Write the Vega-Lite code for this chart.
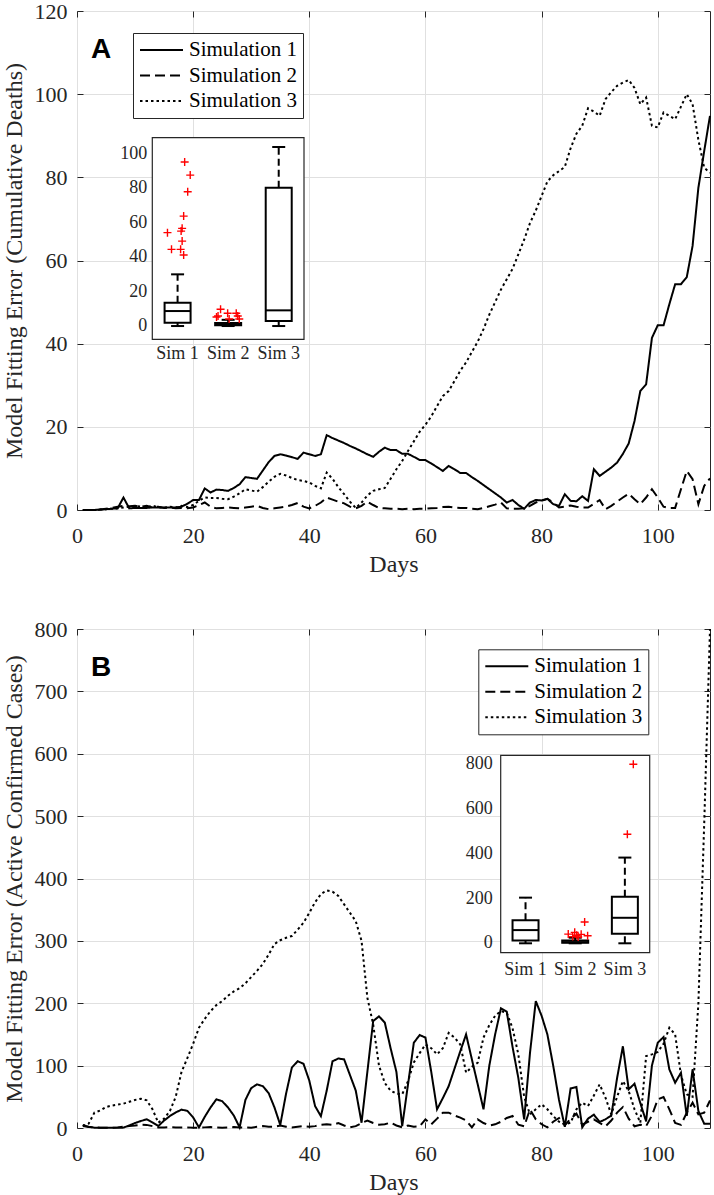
{
"$schema": "https://vega.github.io/schema/vega-lite/v6.json",
"padding": {"left": 1, "top": -1, "right": 3, "bottom": 5},
"background": "white",
"config": {
  "view": {"stroke": "#262626", "strokeWidth": 1},
  "font": "Liberation Serif",
  "axis": {"labelFont": "Liberation Serif", "titleFont": "Liberation Serif", "labelColor": "#262626", "titleColor": "#262626", "titleFontWeight": "normal", "labelFlush": false, "domain": false, "tickColor": "#262626", "gridColor": "#e0e0e0", "labelOverlap": false}
},
"datasets": {
  "deaths": [
{"s":1,"d":1,"v":0},{"s":1,"d":2,"v":0},{"s":1,"d":3,"v":0},{"s":1,"d":4,"v":0.1},{"s":1,"d":5,"v":0.2},{"s":1,"d":6,"v":0.3},{"s":1,"d":7,"v":0.4},{"s":1,"d":8,"v":3},{"s":1,"d":9,"v":0.4},{"s":1,"d":10,"v":0.5},
{"s":1,"d":11,"v":0.5},{"s":1,"d":12,"v":0.5},{"s":1,"d":13,"v":0.6},{"s":1,"d":14,"v":0.6},{"s":1,"d":15,"v":0.6},{"s":1,"d":16,"v":0.6},{"s":1,"d":17,"v":0.6},{"s":1,"d":18,"v":0.8},{"s":1,"d":19,"v":1.5},{"s":1,"d":20,"v":2.4},
{"s":1,"d":21,"v":2.4},{"s":1,"d":22,"v":5.2},{"s":1,"d":23,"v":4.2},{"s":1,"d":24,"v":4.9},{"s":1,"d":25,"v":4.8},{"s":1,"d":26,"v":4.6},{"s":1,"d":27,"v":5.3},{"s":1,"d":28,"v":6.2},{"s":1,"d":29,"v":7.9},{"s":1,"d":30,"v":7.7},
{"s":1,"d":31,"v":7.5},{"s":1,"d":32,"v":9.5},{"s":1,"d":33,"v":11.5},{"s":1,"d":34,"v":13},{"s":1,"d":35,"v":13.4},{"s":1,"d":36,"v":13.1},{"s":1,"d":37,"v":12.7},{"s":1,"d":38,"v":12.3},{"s":1,"d":39,"v":13.8},{"s":1,"d":40,"v":13.4},
{"s":1,"d":41,"v":13},{"s":1,"d":42,"v":13.4},{"s":1,"d":43,"v":18},{"s":1,"d":44,"v":17.3},{"s":1,"d":45,"v":16.7},{"s":1,"d":46,"v":16.1},{"s":1,"d":47,"v":15.4},{"s":1,"d":48,"v":14.8},{"s":1,"d":49,"v":14.1},{"s":1,"d":50,"v":13.4},
{"s":1,"d":51,"v":12.8},{"s":1,"d":52,"v":14},{"s":1,"d":53,"v":15},{"s":1,"d":54,"v":14.4},{"s":1,"d":55,"v":14.4},{"s":1,"d":56,"v":13.5},{"s":1,"d":57,"v":13.5},{"s":1,"d":58,"v":12.8},{"s":1,"d":59,"v":12},{"s":1,"d":60,"v":12},
{"s":1,"d":61,"v":11.2},{"s":1,"d":62,"v":10.3},{"s":1,"d":63,"v":9.4},{"s":1,"d":64,"v":10.6},{"s":1,"d":65,"v":9.8},{"s":1,"d":66,"v":8.9},{"s":1,"d":67,"v":8.9},{"s":1,"d":68,"v":7.9},{"s":1,"d":69,"v":7},{"s":1,"d":70,"v":6},
{"s":1,"d":71,"v":5},{"s":1,"d":72,"v":4},{"s":1,"d":73,"v":3},{"s":1,"d":74,"v":1.8},{"s":1,"d":75,"v":2.4},{"s":1,"d":76,"v":1.2},{"s":1,"d":77,"v":0.3},{"s":1,"d":78,"v":1.8},{"s":1,"d":79,"v":2.4},{"s":1,"d":80,"v":2.3},
{"s":1,"d":81,"v":2.7},{"s":1,"d":82,"v":1.4},{"s":1,"d":83,"v":1},{"s":1,"d":84,"v":3.8},{"s":1,"d":85,"v":2.2},{"s":1,"d":86,"v":2.1},{"s":1,"d":87,"v":3.3},{"s":1,"d":88,"v":2.2},{"s":1,"d":89,"v":9.8},{"s":1,"d":90,"v":8.2},
{"s":1,"d":91,"v":9.2},{"s":1,"d":92,"v":10.2},{"s":1,"d":93,"v":11.4},{"s":1,"d":94,"v":13.5},{"s":1,"d":95,"v":16},{"s":1,"d":96,"v":21.4},{"s":1,"d":97,"v":28.6},{"s":1,"d":98,"v":30.2},{"s":1,"d":99,"v":41.4},{"s":1,"d":100,"v":44.4},
{"s":1,"d":101,"v":44.4},{"s":1,"d":102,"v":49.5},{"s":1,"d":103,"v":54.3},{"s":1,"d":104,"v":54.3},{"s":1,"d":105,"v":56},{"s":1,"d":106,"v":63.5},{"s":1,"d":107,"v":77.5},{"s":1,"d":108,"v":86.3},{"s":1,"d":109,"v":94.8},
{"s":2,"d":1,"v":0},{"s":2,"d":2,"v":0},{"s":2,"d":3,"v":0},{"s":2,"d":4,"v":0.1},{"s":2,"d":5,"v":0.3},{"s":2,"d":6,"v":0.5},{"s":2,"d":7,"v":0.8},{"s":2,"d":8,"v":1},{"s":2,"d":9,"v":0.9},{"s":2,"d":10,"v":1},
{"s":2,"d":11,"v":0.8},{"s":2,"d":12,"v":1},{"s":2,"d":13,"v":0.6},{"s":2,"d":14,"v":0.8},{"s":2,"d":15,"v":0.5},{"s":2,"d":16,"v":0.6},{"s":2,"d":17,"v":0.4},{"s":2,"d":18,"v":0.5},{"s":2,"d":19,"v":0.4},{"s":2,"d":20,"v":0.6},
{"s":2,"d":21,"v":1.2},{"s":2,"d":22,"v":1.8},{"s":2,"d":23,"v":0.8},{"s":2,"d":24,"v":0.4},{"s":2,"d":25,"v":0.5},{"s":2,"d":26,"v":0.6},{"s":2,"d":27,"v":0.5},{"s":2,"d":28,"v":0.4},{"s":2,"d":29,"v":0.6},{"s":2,"d":30,"v":0.8},
{"s":2,"d":31,"v":1},{"s":2,"d":32,"v":0.5},{"s":2,"d":33,"v":0.2},{"s":2,"d":34,"v":0.4},{"s":2,"d":35,"v":0.6},{"s":2,"d":36,"v":0.8},{"s":2,"d":37,"v":1.2},{"s":2,"d":38,"v":1.7},{"s":2,"d":39,"v":0.8},{"s":2,"d":40,"v":0.4},
{"s":2,"d":41,"v":1},{"s":2,"d":42,"v":1.8},{"s":2,"d":43,"v":3},{"s":2,"d":44,"v":2.5},{"s":2,"d":45,"v":2},{"s":2,"d":46,"v":1.6},{"s":2,"d":47,"v":0.8},{"s":2,"d":48,"v":0.4},{"s":2,"d":49,"v":1},{"s":2,"d":50,"v":2},
{"s":2,"d":51,"v":1.2},{"s":2,"d":52,"v":0.5},{"s":2,"d":53,"v":0.4},{"s":2,"d":54,"v":0.3},{"s":2,"d":55,"v":0.3},{"s":2,"d":56,"v":0.2},{"s":2,"d":57,"v":0.3},{"s":2,"d":58,"v":0.2},{"s":2,"d":59,"v":0.3},{"s":2,"d":60,"v":0.3},
{"s":2,"d":61,"v":0.4},{"s":2,"d":62,"v":0.5},{"s":2,"d":63,"v":0.7},{"s":2,"d":64,"v":0.8},{"s":2,"d":65,"v":0.6},{"s":2,"d":66,"v":0.5},{"s":2,"d":67,"v":0.5},{"s":2,"d":68,"v":0.3},{"s":2,"d":69,"v":0.2},{"s":2,"d":70,"v":0.5},
{"s":2,"d":71,"v":0.9},{"s":2,"d":72,"v":1.3},{"s":2,"d":73,"v":1.8},{"s":2,"d":74,"v":0.4},{"s":2,"d":75,"v":0.3},{"s":2,"d":76,"v":0.3},{"s":2,"d":77,"v":0.4},{"s":2,"d":78,"v":1},{"s":2,"d":79,"v":1.8},{"s":2,"d":80,"v":2.2},
{"s":2,"d":81,"v":2.7},{"s":2,"d":82,"v":1.8},{"s":2,"d":83,"v":0.6},{"s":2,"d":84,"v":0.8},{"s":2,"d":85,"v":1.1},{"s":2,"d":86,"v":0.8},{"s":2,"d":87,"v":0.6},{"s":2,"d":88,"v":0.6},{"s":2,"d":89,"v":1.5},{"s":2,"d":90,"v":2.4},
{"s":2,"d":91,"v":0.2},{"s":2,"d":92,"v":1},{"s":2,"d":93,"v":2},{"s":2,"d":94,"v":3},{"s":2,"d":95,"v":3.9},{"s":2,"d":96,"v":2.6},{"s":2,"d":97,"v":1.4},{"s":2,"d":98,"v":3},{"s":2,"d":99,"v":5},{"s":2,"d":100,"v":3},
{"s":2,"d":101,"v":0.8},{"s":2,"d":102,"v":0.5},{"s":2,"d":103,"v":0.5},{"s":2,"d":104,"v":5},{"s":2,"d":105,"v":9.4},{"s":2,"d":106,"v":7.4},{"s":2,"d":107,"v":1.4},{"s":2,"d":108,"v":5.8},{"s":2,"d":109,"v":7.6},
{"s":3,"d":1,"v":0},{"s":3,"d":2,"v":0},{"s":3,"d":3,"v":0},{"s":3,"d":4,"v":0.1},{"s":3,"d":5,"v":0.2},{"s":3,"d":6,"v":0.3},{"s":3,"d":7,"v":0.4},{"s":3,"d":8,"v":0.6},{"s":3,"d":9,"v":0.8},{"s":3,"d":10,"v":1},
{"s":3,"d":11,"v":0.8},{"s":3,"d":12,"v":0.6},{"s":3,"d":13,"v":1},{"s":3,"d":14,"v":0.7},{"s":3,"d":15,"v":0.5},{"s":3,"d":16,"v":0.8},{"s":3,"d":17,"v":0.6},{"s":3,"d":18,"v":1},{"s":3,"d":19,"v":0.7},{"s":3,"d":20,"v":1.2},
{"s":3,"d":21,"v":2.2},{"s":3,"d":22,"v":3},{"s":3,"d":23,"v":2.9},{"s":3,"d":24,"v":2.9},{"s":3,"d":25,"v":2.7},{"s":3,"d":26,"v":2.6},{"s":3,"d":27,"v":3.2},{"s":3,"d":28,"v":4},{"s":3,"d":29,"v":5},{"s":3,"d":30,"v":4.7},
{"s":3,"d":31,"v":4.4},{"s":3,"d":32,"v":5.5},{"s":3,"d":33,"v":6.8},{"s":3,"d":34,"v":8},{"s":3,"d":35,"v":8.7},{"s":3,"d":36,"v":8.3},{"s":3,"d":37,"v":7.7},{"s":3,"d":38,"v":7.2},{"s":3,"d":39,"v":7},{"s":3,"d":40,"v":6.6},
{"s":3,"d":41,"v":5.8},{"s":3,"d":42,"v":5.2},{"s":3,"d":43,"v":9},{"s":3,"d":44,"v":7.5},{"s":3,"d":45,"v":5.5},{"s":3,"d":46,"v":3.8},{"s":3,"d":47,"v":2},{"s":3,"d":48,"v":0.5},{"s":3,"d":49,"v":1.8},{"s":3,"d":50,"v":3.5},
{"s":3,"d":51,"v":4.6},{"s":3,"d":52,"v":5},{"s":3,"d":53,"v":5.3},{"s":3,"d":54,"v":7.5},{"s":3,"d":55,"v":9.8},{"s":3,"d":56,"v":11.8},{"s":3,"d":57,"v":14.2},{"s":3,"d":58,"v":16.5},{"s":3,"d":59,"v":18.8},{"s":3,"d":60,"v":20.5},
{"s":3,"d":61,"v":22.5},{"s":3,"d":62,"v":25},{"s":3,"d":63,"v":27.4},{"s":3,"d":64,"v":28.6},{"s":3,"d":65,"v":31},{"s":3,"d":66,"v":33.5},{"s":3,"d":67,"v":35.5},{"s":3,"d":68,"v":38},{"s":3,"d":69,"v":40.5},{"s":3,"d":70,"v":43.5},
{"s":3,"d":71,"v":47},{"s":3,"d":72,"v":50},{"s":3,"d":73,"v":53},{"s":3,"d":74,"v":55.5},{"s":3,"d":75,"v":58},{"s":3,"d":76,"v":61.5},{"s":3,"d":77,"v":65},{"s":3,"d":78,"v":69},{"s":3,"d":79,"v":72},{"s":3,"d":80,"v":75.5},
{"s":3,"d":81,"v":79},{"s":3,"d":82,"v":80.5},{"s":3,"d":83,"v":81.5},{"s":3,"d":84,"v":82.5},{"s":3,"d":85,"v":87},{"s":3,"d":86,"v":90.5},{"s":3,"d":87,"v":92.4},{"s":3,"d":88,"v":96.6},{"s":3,"d":89,"v":95.8},{"s":3,"d":90,"v":94.8},
{"s":3,"d":91,"v":98.8},{"s":3,"d":92,"v":100.5},{"s":3,"d":93,"v":102},{"s":3,"d":94,"v":102.8},{"s":3,"d":95,"v":103.4},{"s":3,"d":96,"v":101.5},{"s":3,"d":97,"v":97.6},{"s":3,"d":98,"v":99.2},{"s":3,"d":99,"v":92.4},{"s":3,"d":100,"v":92},
{"s":3,"d":101,"v":95.6},{"s":3,"d":102,"v":94.8},{"s":3,"d":103,"v":94},{"s":3,"d":104,"v":97},{"s":3,"d":105,"v":100},{"s":3,"d":106,"v":97.6},{"s":3,"d":107,"v":89},{"s":3,"d":108,"v":82.3},{"s":3,"d":109,"v":81.1}
  ],
  "active": [
{"s":1,"d":1,"v":4.8},{"s":1,"d":2,"v":2},{"s":1,"d":3,"v":0.5},{"s":1,"d":4,"v":0.3},{"s":1,"d":5,"v":0.3},{"s":1,"d":6,"v":0.3},{"s":1,"d":7,"v":0.4},{"s":1,"d":8,"v":0.6},{"s":1,"d":9,"v":4},{"s":1,"d":10,"v":8},
{"s":1,"d":11,"v":11.2},{"s":1,"d":12,"v":13.9},{"s":1,"d":13,"v":9},{"s":1,"d":14,"v":3.2},{"s":1,"d":15,"v":12},{"s":1,"d":16,"v":19.2},{"s":1,"d":17,"v":25},{"s":1,"d":18,"v":29.4},{"s":1,"d":19,"v":27.5},{"s":1,"d":20,"v":17},
{"s":1,"d":21,"v":1},{"s":1,"d":22,"v":18},{"s":1,"d":23,"v":33},{"s":1,"d":24,"v":46},{"s":1,"d":25,"v":43},{"s":1,"d":26,"v":33},{"s":1,"d":27,"v":20},{"s":1,"d":28,"v":1},{"s":1,"d":29,"v":45},{"s":1,"d":30,"v":64},
{"s":1,"d":31,"v":70},{"s":1,"d":32,"v":67},{"s":1,"d":33,"v":56},{"s":1,"d":34,"v":33},{"s":1,"d":35,"v":5},{"s":1,"d":36,"v":55},{"s":1,"d":37,"v":97},{"s":1,"d":38,"v":107},{"s":1,"d":39,"v":103},{"s":1,"d":40,"v":76},
{"s":1,"d":41,"v":35},{"s":1,"d":42,"v":19},{"s":1,"d":43,"v":60},{"s":1,"d":44,"v":107},{"s":1,"d":45,"v":111.4},{"s":1,"d":46,"v":110},{"s":1,"d":47,"v":85},{"s":1,"d":48,"v":60},{"s":1,"d":49,"v":8.5},{"s":1,"d":50,"v":90},
{"s":1,"d":51,"v":171.5},{"s":1,"d":52,"v":179},{"s":1,"d":53,"v":169},{"s":1,"d":54,"v":128},{"s":1,"d":55,"v":90},{"s":1,"d":56,"v":3},{"s":1,"d":57,"v":70},{"s":1,"d":58,"v":136.7},{"s":1,"d":59,"v":149},{"s":1,"d":60,"v":145},
{"s":1,"d":61,"v":90},{"s":1,"d":62,"v":30},{"s":1,"d":63,"v":48},{"s":1,"d":64,"v":67},{"s":1,"d":65,"v":95},{"s":1,"d":66,"v":123},{"s":1,"d":67,"v":150},{"s":1,"d":68,"v":110},{"s":1,"d":69,"v":70},{"s":1,"d":70,"v":30},
{"s":1,"d":71,"v":100},{"s":1,"d":72,"v":150},{"s":1,"d":73,"v":191.8},{"s":1,"d":74,"v":186.5},{"s":1,"d":75,"v":130},{"s":1,"d":76,"v":80},{"s":1,"d":77,"v":13.9},{"s":1,"d":78,"v":120},{"s":1,"d":79,"v":203.5},{"s":1,"d":80,"v":180},
{"s":1,"d":81,"v":150},{"s":1,"d":82,"v":100},{"s":1,"d":83,"v":45},{"s":1,"d":84,"v":2},{"s":1,"d":85,"v":63.5},{"s":1,"d":86,"v":65.6},{"s":1,"d":87,"v":1},{"s":1,"d":88,"v":15},{"s":1,"d":89,"v":21.4},{"s":1,"d":90,"v":9.6},
{"s":1,"d":91,"v":14},{"s":1,"d":92,"v":19.8},{"s":1,"d":93,"v":80},{"s":1,"d":94,"v":131},{"s":1,"d":95,"v":62},{"s":1,"d":96,"v":71},{"s":1,"d":97,"v":40},{"s":1,"d":98,"v":10.7},{"s":1,"d":99,"v":100},{"s":1,"d":100,"v":136.7},
{"s":1,"d":101,"v":145.8},{"s":1,"d":102,"v":94},{"s":1,"d":103,"v":72.6},{"s":1,"d":104,"v":88.7},{"s":1,"d":105,"v":19.3},{"s":1,"d":106,"v":94},{"s":1,"d":107,"v":27.3},{"s":1,"d":108,"v":6.9},{"s":1,"d":109,"v":6.9},
{"s":2,"d":1,"v":3},{"s":2,"d":2,"v":1.5},{"s":2,"d":3,"v":1},{"s":2,"d":4,"v":0.5},{"s":2,"d":5,"v":0.5},{"s":2,"d":6,"v":0.5},{"s":2,"d":7,"v":1},{"s":2,"d":8,"v":2},{"s":2,"d":9,"v":3},{"s":2,"d":10,"v":4},
{"s":2,"d":11,"v":5.3},{"s":2,"d":12,"v":5},{"s":2,"d":13,"v":3},{"s":2,"d":14,"v":1},{"s":2,"d":15,"v":1},{"s":2,"d":16,"v":1.5},{"s":2,"d":17,"v":1},{"s":2,"d":18,"v":1},{"s":2,"d":19,"v":1},{"s":2,"d":20,"v":0.5},
{"s":2,"d":21,"v":0.5},{"s":2,"d":22,"v":1},{"s":2,"d":23,"v":1.5},{"s":2,"d":24,"v":1},{"s":2,"d":25,"v":0.5},{"s":2,"d":26,"v":1},{"s":2,"d":27,"v":1.5},{"s":2,"d":28,"v":1},{"s":2,"d":29,"v":1},{"s":2,"d":30,"v":0.5},
{"s":2,"d":31,"v":2},{"s":2,"d":32,"v":3},{"s":2,"d":33,"v":2},{"s":2,"d":34,"v":2},{"s":2,"d":35,"v":4},{"s":2,"d":36,"v":2},{"s":2,"d":37,"v":1},{"s":2,"d":38,"v":2},{"s":2,"d":39,"v":3},{"s":2,"d":40,"v":2},
{"s":2,"d":41,"v":3},{"s":2,"d":42,"v":5},{"s":2,"d":43,"v":6},{"s":2,"d":44,"v":5},{"s":2,"d":45,"v":8},{"s":2,"d":46,"v":4},{"s":2,"d":47,"v":1},{"s":2,"d":48,"v":3},{"s":2,"d":49,"v":8},{"s":2,"d":50,"v":12},
{"s":2,"d":51,"v":8},{"s":2,"d":52,"v":5.3},{"s":2,"d":53,"v":6},{"s":2,"d":54,"v":8.5},{"s":2,"d":55,"v":4},{"s":2,"d":56,"v":1},{"s":2,"d":57,"v":4},{"s":2,"d":58,"v":2},{"s":2,"d":59,"v":2.7},{"s":2,"d":60,"v":13.9},
{"s":2,"d":61,"v":5.9},{"s":2,"d":62,"v":15},{"s":2,"d":63,"v":24.6},{"s":2,"d":64,"v":24.6},{"s":2,"d":65,"v":20},{"s":2,"d":66,"v":16.6},{"s":2,"d":67,"v":12},{"s":2,"d":68,"v":1},{"s":2,"d":69,"v":13.9},{"s":2,"d":70,"v":8},
{"s":2,"d":71,"v":4},{"s":2,"d":72,"v":5.9},{"s":2,"d":73,"v":10},{"s":2,"d":74,"v":16},{"s":2,"d":75,"v":19.2},{"s":2,"d":76,"v":5.3},{"s":2,"d":77,"v":2.7},{"s":2,"d":78,"v":29.9},{"s":2,"d":79,"v":13.9},{"s":2,"d":80,"v":6},
{"s":2,"d":81,"v":1},{"s":2,"d":82,"v":10},{"s":2,"d":83,"v":16},{"s":2,"d":84,"v":4},{"s":2,"d":85,"v":15},{"s":2,"d":86,"v":23},{"s":2,"d":87,"v":5.3},{"s":2,"d":88,"v":10},{"s":2,"d":89,"v":13.9},{"s":2,"d":90,"v":8},
{"s":2,"d":91,"v":2.7},{"s":2,"d":92,"v":12},{"s":2,"d":93,"v":24.6},{"s":2,"d":94,"v":33.6},{"s":2,"d":95,"v":15},{"s":2,"d":96,"v":2.7},{"s":2,"d":97,"v":5.3},{"s":2,"d":98,"v":3},{"s":2,"d":99,"v":20},{"s":2,"d":100,"v":45.9},
{"s":2,"d":101,"v":49.7},{"s":2,"d":102,"v":30},{"s":2,"d":103,"v":8},{"s":2,"d":104,"v":5},{"s":2,"d":105,"v":24.6},{"s":2,"d":106,"v":40.6},{"s":2,"d":107,"v":21.9},{"s":2,"d":108,"v":24.6},{"s":2,"d":109,"v":44},
{"s":3,"d":1,"v":3.2},{"s":3,"d":2,"v":7},{"s":3,"d":3,"v":24.6},{"s":3,"d":4,"v":28},{"s":3,"d":5,"v":33.6},{"s":3,"d":6,"v":36},{"s":3,"d":7,"v":37.5},{"s":3,"d":8,"v":39},{"s":3,"d":9,"v":42},{"s":3,"d":10,"v":45},
{"s":3,"d":11,"v":47},{"s":3,"d":12,"v":44.3},{"s":3,"d":13,"v":30},{"s":3,"d":14,"v":8.5},{"s":3,"d":15,"v":15},{"s":3,"d":16,"v":27.2},{"s":3,"d":17,"v":50},{"s":3,"d":18,"v":90},{"s":3,"d":19,"v":112},{"s":3,"d":20,"v":135},
{"s":3,"d":21,"v":160.7},{"s":3,"d":22,"v":175},{"s":3,"d":23,"v":187.5},{"s":3,"d":24,"v":197},{"s":3,"d":25,"v":203.5},{"s":3,"d":26,"v":212},{"s":3,"d":27,"v":219},{"s":3,"d":28,"v":224},{"s":3,"d":29,"v":232},{"s":3,"d":30,"v":242},
{"s":3,"d":31,"v":252},{"s":3,"d":32,"v":263},{"s":3,"d":33,"v":278},{"s":3,"d":34,"v":295},{"s":3,"d":35,"v":301},{"s":3,"d":36,"v":305},{"s":3,"d":37,"v":307.8},{"s":3,"d":38,"v":318},{"s":3,"d":39,"v":329},{"s":3,"d":40,"v":345},
{"s":3,"d":41,"v":362},{"s":3,"d":42,"v":375},{"s":3,"d":43,"v":381},{"s":3,"d":44,"v":379},{"s":3,"d":45,"v":372},{"s":3,"d":46,"v":358.5},{"s":3,"d":47,"v":345},{"s":3,"d":48,"v":331.7},{"s":3,"d":49,"v":300},{"s":3,"d":50,"v":208.8},
{"s":3,"d":51,"v":166},{"s":3,"d":52,"v":100},{"s":3,"d":53,"v":72},{"s":3,"d":54,"v":60},{"s":3,"d":55,"v":55},{"s":3,"d":56,"v":54},{"s":3,"d":57,"v":75},{"s":3,"d":58,"v":105},{"s":3,"d":59,"v":120},{"s":3,"d":60,"v":133.9},
{"s":3,"d":61,"v":128},{"s":3,"d":62,"v":118},{"s":3,"d":63,"v":128},{"s":3,"d":64,"v":152.5},{"s":3,"d":65,"v":145},{"s":3,"d":66,"v":134},{"s":3,"d":67,"v":88.7},{"s":3,"d":68,"v":98},{"s":3,"d":69,"v":104.7},{"s":3,"d":70,"v":145},
{"s":3,"d":71,"v":165},{"s":3,"d":72,"v":180},{"s":3,"d":73,"v":187.5},{"s":3,"d":74,"v":184.8},{"s":3,"d":75,"v":160},{"s":3,"d":76,"v":118},{"s":3,"d":77,"v":50},{"s":3,"d":78,"v":21.9},{"s":3,"d":79,"v":30},{"s":3,"d":80,"v":38},
{"s":3,"d":81,"v":30},{"s":3,"d":82,"v":19.2},{"s":3,"d":83,"v":10},{"s":3,"d":84,"v":5.8},{"s":3,"d":85,"v":8.5},{"s":3,"d":86,"v":30},{"s":3,"d":87,"v":40.6},{"s":3,"d":88,"v":35.2},{"s":3,"d":89,"v":52},{"s":3,"d":90,"v":70},
{"s":3,"d":91,"v":48.6},{"s":3,"d":92,"v":21.9},{"s":3,"d":93,"v":50},{"s":3,"d":94,"v":75.3},{"s":3,"d":95,"v":59.3},{"s":3,"d":96,"v":30},{"s":3,"d":97,"v":8.5},{"s":3,"d":98,"v":115.3},{"s":3,"d":99,"v":118},{"s":3,"d":100,"v":122},
{"s":3,"d":101,"v":135},{"s":3,"d":102,"v":160.7},{"s":3,"d":103,"v":150},{"s":3,"d":104,"v":85},{"s":3,"d":105,"v":53.9},{"s":3,"d":106,"v":50},{"s":3,"d":107,"v":200},{"s":3,"d":108,"v":487},{"s":3,"d":109,"v":800}
  ],
  "boxA": [
    {"pos":1,"name":"Sim 1","lo":0,"q1":1.9,"med":8.7,"q3":13.5,"hi":30},
    {"pos":2,"name":"Sim 2","lo":0,"q1":0.4,"med":0.8,"q3":1.8,"hi":3.6},
    {"pos":3,"name":"Sim 3","lo":0,"q1":2.9,"med":9.1,"q3":80.3,"hi":103.9}
  ],
  "ticksA": [{"t":0},{"t":20},{"t":40},{"t":60},{"t":80},{"t":100}],
  "outA": [
    {"pos":0.80,"v":54.2},{"pos":0.88,"v":44.5},{"pos":1.06,"v":44.5},{"pos":1.09,"v":49.3},{"pos":1.07,"v":55.1},{"pos":1.09,"v":56.7},{"pos":1.12,"v":63.8},{"pos":1.12,"v":41.2},{"pos":1.20,"v":77.9},{"pos":1.25,"v":87.6},{"pos":1.14,"v":95.2},
    {"pos":1.77,"v":5.2},{"pos":1.80,"v":5.8},{"pos":1.85,"v":9.7},{"pos":1.99,"v":7.4},{"pos":2.02,"v":4.1},{"pos":2.16,"v":7.4},{"pos":2.19,"v":5.8},{"pos":2.22,"v":4.1}
  ],
  "boxB": [
    {"pos":1,"name":"Sim 1","lo":0,"q1":12,"med":59,"q3":103,"hi":204},
    {"pos":2,"name":"Sim 2","lo":0,"q1":2,"med":5,"q3":13,"hi":25},
    {"pos":3,"name":"Sim 3","lo":0,"q1":43,"med":114,"q3":208,"hi":383}
  ],
  "ticksB": [{"t":0},{"t":200},{"t":400},{"t":600},{"t":800}],
  "outB": [
    {"pos":1.86,"v":41},{"pos":1.99,"v":49},{"pos":2.03,"v":36},{"pos":2.12,"v":40},{"pos":2.19,"v":95},{"pos":2.25,"v":34},{"pos":1.95,"v":30},{"pos":2.06,"v":28},
    {"pos":3.17,"v":800},{"pos":3.05,"v":487}
  ]
},
"resolve": {"scale": {"strokeDash": "independent"}, "legend": {"strokeDash": "independent"}},
"vconcat": [
{
  "width": 633, "height": 499,
  "resolve": {"scale": {"x": "independent", "y": "independent"}},
  "layer": [
    {
      "data": {"name": "deaths"},
      "mark": {"type": "line", "color": "black", "strokeWidth": 2, "strokeCap": "butt"},
      "encoding": {
        "x": {"field": "d", "type": "quantitative", "scale": {"domain": [0, 109], "nice": false, "zero": false},
              "axis": {"title": "Days", "values": [0,20,40,60,80,100], "grid": true, "labelFontSize": 22, "titleFontSize": 24, "tickSize": -6, "labelPadding": 21, "titlePadding": 6}},
        "y": {"field": "v", "type": "quantitative", "scale": {"domain": [0, 120], "nice": false},
              "axis": {"title": "Model Fitting Error (Cumulative Deaths)", "values": [0,20,40,60,80,100,120], "grid": true, "labelFontSize": 22, "titleFontSize": 24, "tickSize": -6, "labelPadding": 16, "titlePadding": 8}},
        "strokeDash": {"field": "s", "type": "nominal", "scale": {"domain": [1,2,3], "range": [[1,0],[10,5],[2.5,3]]},
              "legend": {"orient": "none", "legendX": 56, "legendY": 22, "title": null, "symbolType": "stroke", "symbolSize": 1849, "symbolStrokeWidth": 2, "symbolStrokeColor": "black", "clipHeight": 22, "rowPadding": 3.5, "padding": 6, "labelFont": "Liberation Serif", "labelFontSize": 21, "labelColor": "black", "labelOffset": 5, "labelExpr": "'Simulation ' + datum.label", "strokeColor": "#262626", "fillColor": "white"}}
      }
    },
    {
      "data": {"name": "deaths"},
      "mark": {"type": "line", "strokeOpacity": 0},
      "encoding": {
        "x": {"field": "d", "type": "quantitative", "scale": {"domain": [0, 109], "nice": false, "zero": false},
              "axis": {"orient": "top", "labels": false, "title": null, "grid": false, "values": [0,20,40,60,80,100], "tickSize": -6}},
        "y": {"field": "v", "type": "quantitative", "scale": {"domain": [0, 120], "nice": false},
              "axis": {"orient": "right", "labels": false, "title": null, "grid": false, "values": [0,20,40,60,80,100,120], "tickSize": -6}}
      }
    },
    {
      "data": {"values": [{}]},
      "mark": {"type": "text", "text": "A", "font": "Liberation Sans", "fontWeight": "bold", "fontSize": 28, "align": "left", "baseline": "alphabetic", "color": "black"},
      "encoding": {
        "x": {"datum": 2.4, "type": "quantitative", "scale": {"domain": [0, 109], "nice": false, "zero": false}, "axis": null},
        "y": {"datum": 108.7, "type": "quantitative", "scale": {"domain": [0, 120], "nice": false}, "axis": null}
      }
    },
    {
      "layer": [
        {
          "data": {"values": [{}]},
          "mark": {"type": "rect", "fill": "white", "stroke": "#262626", "strokeWidth": 1.2},
          "encoding": {
            "x": {"datum": 0.5, "type": "quantitative", "scale": {"domain": [0.5, 3.5], "range": [70.3, 232], "nice": false, "zero": false}, "axis": null},
            "x2": {"datum": 3.5},
            "y": {"datum": -7.7, "type": "quantitative", "scale": {"domain": [-7.7, 109.3], "range": [328.3, 126.7], "nice": false, "zero": false}, "axis": null},
            "y2": {"datum": 109.3}
          }
        },
        {
          "data": {"name": "ticksA"},
          "mark": {"type": "text", "align": "right", "baseline": "middle", "dx": -5, "fontSize": 18, "font": "Liberation Serif", "color": "#262626"},
          "encoding": {
            "x": {"datum": 0.5, "type": "quantitative", "scale": {"domain": [0.5, 3.5], "range": [70.3, 232], "nice": false, "zero": false}, "axis": null},
            "y": {"field": "t", "type": "quantitative", "scale": {"domain": [-7.7, 109.3], "range": [328.3, 126.7], "nice": false, "zero": false}, "axis": null},
            "text": {"field": "t", "type": "quantitative"}
          }
        },
        {
          "data": {"name": "boxA"},
          "mark": {"type": "text", "align": "center", "baseline": "top", "dy": 6, "fontSize": 18, "font": "Liberation Serif", "color": "#262626"},
          "encoding": {
            "x": {"field": "pos", "type": "quantitative", "scale": {"domain": [0.5, 3.5], "range": [70.3, 232], "nice": false, "zero": false}, "axis": null},
            "y": {"datum": -7.7, "type": "quantitative", "scale": {"domain": [-7.7, 109.3], "range": [328.3, 126.7], "nice": false, "zero": false}, "axis": null},
            "text": {"field": "name", "type": "nominal"}
          }
        },
        {
          "data": {"name": "boxA"},
          "mark": {"type": "rule", "color": "black", "strokeWidth": 2, "strokeDash": [7, 4]},
          "encoding": {
            "x": {"field": "pos", "type": "quantitative", "scale": {"domain": [0.5, 3.5], "range": [70.3, 232], "nice": false, "zero": false}, "axis": null},
            "y": {"field": "q3", "type": "quantitative", "scale": {"domain": [-7.7, 109.3], "range": [328.3, 126.7], "nice": false, "zero": false}, "axis": null},
            "y2": {"field": "hi"}
          }
        },
        {
          "data": {"name": "boxA"},
          "mark": {"type": "rule", "color": "black", "strokeWidth": 2, "strokeDash": [7, 4]},
          "encoding": {
            "x": {"field": "pos", "type": "quantitative", "scale": {"domain": [0.5, 3.5], "range": [70.3, 232], "nice": false, "zero": false}, "axis": null},
            "y": {"field": "lo", "type": "quantitative", "scale": {"domain": [-7.7, 109.3], "range": [328.3, 126.7], "nice": false, "zero": false}, "axis": null},
            "y2": {"field": "q1"}
          }
        },
        {
          "data": {"name": "boxA"},
          "mark": {"type": "bar", "size": 26, "fill": "white", "stroke": "black", "strokeWidth": 2},
          "encoding": {
            "x": {"field": "pos", "type": "quantitative", "scale": {"domain": [0.5, 3.5], "range": [70.3, 232], "nice": false, "zero": false}, "axis": null},
            "y": {"field": "q1", "type": "quantitative", "scale": {"domain": [-7.7, 109.3], "range": [328.3, 126.7], "nice": false, "zero": false}, "axis": null},
            "y2": {"field": "q3"}
          }
        },
        {
          "data": {"name": "boxA"},
          "mark": {"type": "tick", "orient": "horizontal", "size": 26, "thickness": 2, "color": "black", "opacity": 1},
          "encoding": {
            "x": {"field": "pos", "type": "quantitative", "scale": {"domain": [0.5, 3.5], "range": [70.3, 232], "nice": false, "zero": false}, "axis": null},
            "y": {"field": "med", "type": "quantitative", "scale": {"domain": [-7.7, 109.3], "range": [328.3, 126.7], "nice": false, "zero": false}, "axis": null}
          }
        },
        {
          "data": {"name": "boxA"},
          "mark": {"type": "tick", "orient": "horizontal", "size": 13, "thickness": 2, "color": "black", "opacity": 1},
          "encoding": {
            "x": {"field": "pos", "type": "quantitative", "scale": {"domain": [0.5, 3.5], "range": [70.3, 232], "nice": false, "zero": false}, "axis": null},
            "y": {"field": "hi", "type": "quantitative", "scale": {"domain": [-7.7, 109.3], "range": [328.3, 126.7], "nice": false, "zero": false}, "axis": null}
          }
        },
        {
          "data": {"name": "boxA"},
          "mark": {"type": "tick", "orient": "horizontal", "size": 13, "thickness": 2, "color": "black", "opacity": 1},
          "encoding": {
            "x": {"field": "pos", "type": "quantitative", "scale": {"domain": [0.5, 3.5], "range": [70.3, 232], "nice": false, "zero": false}, "axis": null},
            "y": {"field": "lo", "type": "quantitative", "scale": {"domain": [-7.7, 109.3], "range": [328.3, 126.7], "nice": false, "zero": false}, "axis": null}
          }
        },
        {
          "data": {"name": "outA"},
          "mark": {"type": "point", "shape": "M-1,0L1,0M0,-1L0,1", "size": 64, "filled": false, "stroke": "#ff0000", "strokeWidth": 1.4, "opacity": 1},
          "encoding": {
            "x": {"field": "pos", "type": "quantitative", "scale": {"domain": [0.5, 3.5], "range": [70.3, 232], "nice": false, "zero": false}, "axis": null},
            "y": {"field": "v", "type": "quantitative", "scale": {"domain": [-7.7, 109.3], "range": [328.3, 126.7], "nice": false, "zero": false}, "axis": null}
          }
        }
      ]
    }
  ]
},
{
  "width": 633, "height": 499,
  "resolve": {"scale": {"x": "independent", "y": "independent"}},
  "layer": [
    {
      "data": {"name": "active"},
      "mark": {"type": "line", "color": "black", "strokeWidth": 2, "strokeCap": "butt"},
      "encoding": {
        "x": {"field": "d", "type": "quantitative", "scale": {"domain": [0, 109], "nice": false, "zero": false},
              "axis": {"title": "Days", "values": [0,20,40,60,80,100], "grid": true, "labelFontSize": 22, "titleFontSize": 24, "tickSize": -6, "labelPadding": 21, "titlePadding": 6}},
        "y": {"field": "v", "type": "quantitative", "scale": {"domain": [0, 800], "nice": false},
              "axis": {"title": "Model Fitting Error (Active Confirmed Cases)", "values": [0,100,200,300,400,500,600,700,800], "grid": true, "labelFontSize": 22, "titleFontSize": 24, "tickSize": -6, "labelPadding": 16, "titlePadding": 8}},
        "strokeDash": {"field": "s", "type": "nominal", "scale": {"domain": [1,2,3], "range": [[1,0],[10,5],[2.5,3]]},
              "legend": {"orient": "none", "legendX": 401.3, "legendY": 20.3, "title": null, "symbolType": "stroke", "symbolSize": 1849, "symbolStrokeWidth": 2, "symbolStrokeColor": "black", "clipHeight": 22, "rowPadding": 3.5, "padding": 6, "labelFont": "Liberation Serif", "labelFontSize": 21, "labelColor": "black", "labelOffset": 5, "labelExpr": "'Simulation ' + datum.label", "strokeColor": "#262626", "fillColor": "white"}}
      }
    },
    {
      "data": {"name": "active"},
      "mark": {"type": "line", "strokeOpacity": 0},
      "encoding": {
        "x": {"field": "d", "type": "quantitative", "scale": {"domain": [0, 109], "nice": false, "zero": false},
              "axis": {"orient": "top", "labels": false, "title": null, "grid": false, "values": [0,20,40,60,80,100], "tickSize": -6}},
        "y": {"field": "v", "type": "quantitative", "scale": {"domain": [0, 800], "nice": false},
              "axis": {"orient": "right", "labels": false, "title": null, "grid": false, "values": [0,100,200,300,400,500,600,700,800], "tickSize": -6}}
      }
    },
    {
      "data": {"values": [{}]},
      "mark": {"type": "text", "text": "B", "font": "Liberation Sans", "fontWeight": "bold", "fontSize": 28, "align": "left", "baseline": "alphabetic", "color": "black"},
      "encoding": {
        "x": {"datum": 2.4, "type": "quantitative", "scale": {"domain": [0, 109], "nice": false, "zero": false}, "axis": null},
        "y": {"datum": 724, "type": "quantitative", "scale": {"domain": [0, 800], "nice": false}, "axis": null}
      }
    },
    {
      "layer": [
        {
          "data": {"values": [{}]},
          "mark": {"type": "rect", "fill": "white", "stroke": "#262626", "strokeWidth": 1.2},
          "encoding": {
            "x": {"datum": 0.5, "type": "quantitative", "scale": {"domain": [0.5, 3.5], "range": [418.7, 577.7], "nice": false, "zero": false}, "axis": null},
            "x2": {"datum": 3.5},
            "y": {"datum": -42, "type": "quantitative", "scale": {"domain": [-42, 840], "range": [323.7, 126.3], "nice": false, "zero": false}, "axis": null},
            "y2": {"datum": 840}
          }
        },
        {
          "data": {"name": "ticksB"},
          "mark": {"type": "text", "align": "right", "baseline": "middle", "dx": -8, "fontSize": 18, "font": "Liberation Serif", "color": "#262626"},
          "encoding": {
            "x": {"datum": 0.5, "type": "quantitative", "scale": {"domain": [0.5, 3.5], "range": [418.7, 577.7], "nice": false, "zero": false}, "axis": null},
            "y": {"field": "t", "type": "quantitative", "scale": {"domain": [-42, 840], "range": [323.7, 126.3], "nice": false, "zero": false}, "axis": null},
            "text": {"field": "t", "type": "quantitative"}
          }
        },
        {
          "data": {"name": "boxB"},
          "mark": {"type": "text", "align": "center", "baseline": "top", "dy": 8, "fontSize": 18, "font": "Liberation Serif", "color": "#262626"},
          "encoding": {
            "x": {"field": "pos", "type": "quantitative", "scale": {"domain": [0.5, 3.5], "range": [418.7, 577.7], "nice": false, "zero": false}, "axis": null},
            "y": {"datum": -42, "type": "quantitative", "scale": {"domain": [-42, 840], "range": [323.7, 126.3], "nice": false, "zero": false}, "axis": null},
            "text": {"field": "name", "type": "nominal"}
          }
        },
        {
          "data": {"name": "boxB"},
          "mark": {"type": "rule", "color": "black", "strokeWidth": 2, "strokeDash": [7, 4]},
          "encoding": {
            "x": {"field": "pos", "type": "quantitative", "scale": {"domain": [0.5, 3.5], "range": [418.7, 577.7], "nice": false, "zero": false}, "axis": null},
            "y": {"field": "q3", "type": "quantitative", "scale": {"domain": [-42, 840], "range": [323.7, 126.3], "nice": false, "zero": false}, "axis": null},
            "y2": {"field": "hi"}
          }
        },
        {
          "data": {"name": "boxB"},
          "mark": {"type": "rule", "color": "black", "strokeWidth": 2, "strokeDash": [7, 4]},
          "encoding": {
            "x": {"field": "pos", "type": "quantitative", "scale": {"domain": [0.5, 3.5], "range": [418.7, 577.7], "nice": false, "zero": false}, "axis": null},
            "y": {"field": "lo", "type": "quantitative", "scale": {"domain": [-42, 840], "range": [323.7, 126.3], "nice": false, "zero": false}, "axis": null},
            "y2": {"field": "q1"}
          }
        },
        {
          "data": {"name": "boxB"},
          "mark": {"type": "bar", "size": 26, "fill": "white", "stroke": "black", "strokeWidth": 2},
          "encoding": {
            "x": {"field": "pos", "type": "quantitative", "scale": {"domain": [0.5, 3.5], "range": [418.7, 577.7], "nice": false, "zero": false}, "axis": null},
            "y": {"field": "q1", "type": "quantitative", "scale": {"domain": [-42, 840], "range": [323.7, 126.3], "nice": false, "zero": false}, "axis": null},
            "y2": {"field": "q3"}
          }
        },
        {
          "data": {"name": "boxB"},
          "mark": {"type": "tick", "orient": "horizontal", "size": 26, "thickness": 2, "color": "black", "opacity": 1},
          "encoding": {
            "x": {"field": "pos", "type": "quantitative", "scale": {"domain": [0.5, 3.5], "range": [418.7, 577.7], "nice": false, "zero": false}, "axis": null},
            "y": {"field": "med", "type": "quantitative", "scale": {"domain": [-42, 840], "range": [323.7, 126.3], "nice": false, "zero": false}, "axis": null}
          }
        },
        {
          "data": {"name": "boxB"},
          "mark": {"type": "tick", "orient": "horizontal", "size": 13, "thickness": 2, "color": "black", "opacity": 1},
          "encoding": {
            "x": {"field": "pos", "type": "quantitative", "scale": {"domain": [0.5, 3.5], "range": [418.7, 577.7], "nice": false, "zero": false}, "axis": null},
            "y": {"field": "hi", "type": "quantitative", "scale": {"domain": [-42, 840], "range": [323.7, 126.3], "nice": false, "zero": false}, "axis": null}
          }
        },
        {
          "data": {"name": "boxB"},
          "mark": {"type": "tick", "orient": "horizontal", "size": 13, "thickness": 2, "color": "black", "opacity": 1},
          "encoding": {
            "x": {"field": "pos", "type": "quantitative", "scale": {"domain": [0.5, 3.5], "range": [418.7, 577.7], "nice": false, "zero": false}, "axis": null},
            "y": {"field": "lo", "type": "quantitative", "scale": {"domain": [-42, 840], "range": [323.7, 126.3], "nice": false, "zero": false}, "axis": null}
          }
        },
        {
          "data": {"name": "outB"},
          "mark": {"type": "point", "shape": "M-1,0L1,0M0,-1L0,1", "size": 64, "filled": false, "stroke": "#ff0000", "strokeWidth": 1.4, "opacity": 1},
          "encoding": {
            "x": {"field": "pos", "type": "quantitative", "scale": {"domain": [0.5, 3.5], "range": [418.7, 577.7], "nice": false, "zero": false}, "axis": null},
            "y": {"field": "v", "type": "quantitative", "scale": {"domain": [-42, 840], "range": [323.7, 126.3], "nice": false, "zero": false}, "axis": null}
          }
        }
      ]
    }
  ]
}
],
"spacing": 119,
"bounds": "flush"
}
